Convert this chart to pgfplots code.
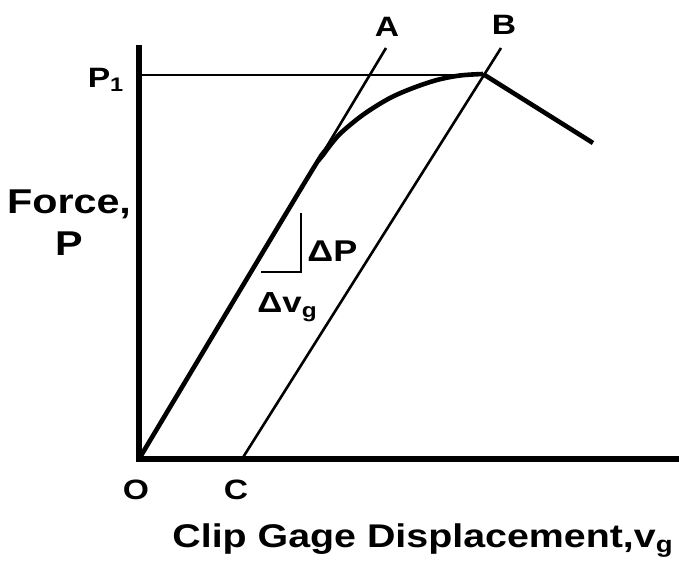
\documentclass[border=0pt]{standalone}
\usepackage{pgfplots}
\pgfplotsset{compat=1.18}
\usepackage{fontspec}
\setmainfont{Liberation Sans}
\newfontfamily\hb{Liberation Sans Bold}[FakeStretch=1.2]
\begin{document}
\begin{tikzpicture}
\path[use as bounding box] (-69.5pt,-54pt) rectangle (270pt,229.5pt);
\begin{axis}[
  x=0.5pt, y=0.5pt,
  at={(0,0)}, anchor=south west,
  xmin=0, xmax=540, ymin=0, ymax=411,
  axis lines=left,
  axis line style={-, line width=2.7pt, line cap=rect},
  xtick=\empty, ytick=\empty,
  clip=false,
]
% P1 level line
\addplot[black, line width=0.8pt] coordinates {(0,384) (344,384)};
% line A (initial slope)
\addplot[black, line width=1.3pt] coordinates {(0,0) (247,411)};
% line B (offset parallel)
\addplot[black, line width=1.3pt] coordinates {(103,0) (362,411)};
% force-displacement curve
\addplot[black, line width=2.3pt, smooth, tension=0.55] coordinates {
 (0,0) (166,277) (184,304) (198,322) (211,334) (228,347) (251,361) (274,371) (298,379) (321,383.5) (344,385)};
\addplot[black, line width=2.3pt] coordinates {(344,385) (454,316)};
% slope triangle
\addplot[black, line width=0.7pt] coordinates {(122,187) (162,187) (162,246)};
% labels
\node[font=\hb\fontsize{14}{16}\selectfont] at (axis cs:-33,379) {P\textsubscript{1}};
\node[font=\hb\fontsize{17.2}{21}\selectfont, align=center] at (axis cs:-70,236) {Force,\\P};
\node[font=\hb\fontsize{14}{16}\selectfont] at (axis cs:-3,-31) {O};
\node[font=\hb\fontsize{14}{16}\selectfont] at (axis cs:97,-31) {C};
\node[font=\hb\fontsize{14}{16}\selectfont] at (axis cs:248,432) {A};
\node[font=\hb\fontsize{14}{16}\selectfont] at (axis cs:365,434) {B};
\node[font=\hb\fontsize{15}{17}\selectfont, anchor=base west, inner sep=0pt] at (axis cs:168,197) {ΔP};
\node[font=\hb\fontsize{14.5}{17}\selectfont, anchor=base west, inner sep=0pt] at (axis cs:118,146) {Δv\textsubscript{g}};
\node[font=\hb\fontsize{16.4}{20}\selectfont, anchor=base west, inner sep=0pt] at (axis cs:33,-88) {Clip Gage Displacement,v\textsubscript{g}};
\end{axis}
\end{tikzpicture}
\end{document}
